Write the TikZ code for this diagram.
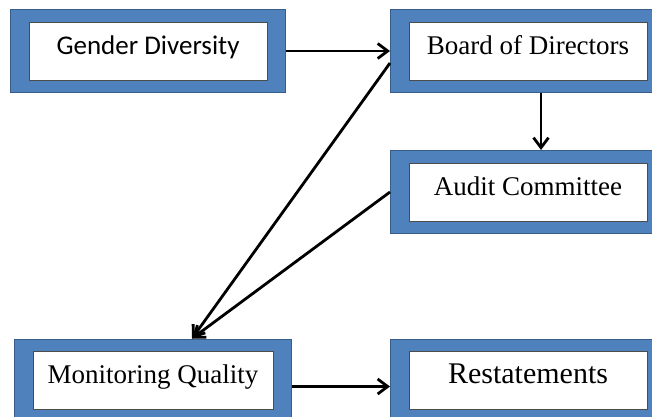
\documentclass[tikz,border=0pt]{standalone}
\usepackage{fontspec}
\setmainfont{Liberation Serif}
\newfontfamily\calibri{Carlito}
\usetikzlibrary{arrows.meta,fit,backgrounds}
\definecolor{boxblue}{HTML}{4F81BD}
\definecolor{boxedge}{HTML}{385D8A}
\begin{document}
\begin{tikzpicture}[x=1pt, y=-1pt,
    inbox/.style={draw=black!70, line width=0.8pt, fill=white, minimum width=238pt, minimum height=58pt, inner sep=0pt, text height=18pt, text depth=12pt, font=\fontsize{27}{32}\selectfont},
    boxframe/.style={draw=boxedge, line width=1.2pt, fill=boxblue, inner xsep=18pt, inner ysep=12pt},
    arr/.style={-{Straight Barb[length=10pt,width=15pt]}, line width=2.8pt}]
    \useasboundingbox (0,0) rectangle (652,416);
    \clip (0,0) rectangle (652,416);

    \node[inbox, font=\calibri\fontsize{27}{32}\selectfont] (GD) at (148,51) {Gender Diversity};
    \node[inbox] (BD) at (528,51) {Board of Directors};
    \node[inbox] (AC) at (528,192) {Audit Committee};
    \node[inbox, minimum width=240pt] (MQ) at (153,380.5) {Monitoring Quality};
    \node[inbox, font=\fontsize{30}{36}\selectfont] (RS) at (528,380.5) {Restatements};

    \begin{scope}[on background layer]
        \node[boxframe, fit=(GD)] (GDf) {};
        \node[boxframe, fit=(BD)] (BDf) {};
        \node[boxframe, fit=(AC)] (ACf) {};
        \node[boxframe, fit=(MQ)] (MQf) {};
        \node[boxframe, fit=(RS)] (RSf) {};
    \end{scope}

    \draw[arr] (GDf.east) -- (BDf.west);
    \draw[arr] ([xshift=13pt]BDf.south) -- ([xshift=13pt]ACf.north);
    \draw[arr] ([yshift=-12pt]BDf.west) -- ([xshift=39pt]MQf.north);
    \draw[arr] (ACf.west) -- ([xshift=39pt]MQf.north);
    \draw[arr] ([yshift=-6pt]MQf.east) -- ([yshift=-6pt]RSf.west);
\end{tikzpicture}
\end{document}
